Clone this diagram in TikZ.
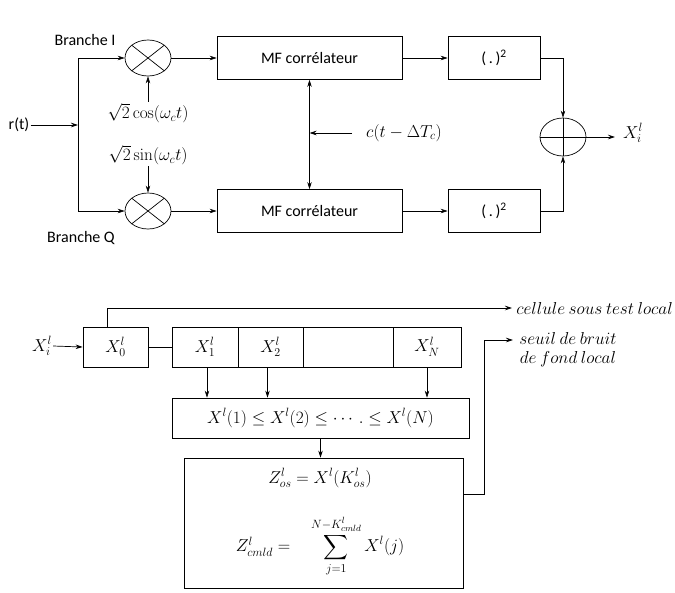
\documentclass[tikz,border=0pt]{standalone}
\usepackage{amsmath}
\usepackage[no-math]{fontspec}
\setmainfont{Carlito}
\DeclareMathSizes{16}{16}{11.5}{9}
\usetikzlibrary{shapes.geometric,arrows.meta}
\begin{document}
\begin{tikzpicture}[x=1pt,y=-1pt, line width=0.7pt,
  >={Stealth[length=7pt,width=4.5pt]},
  every node/.style={font=\fontsize{16}{19}\selectfont},
  blk/.style={draw, inner sep=0pt, minimum height=43pt},
  cell/.style={draw, inner sep=0pt, minimum height=40pt},
  mix/.style={draw, ellipse, inner sep=0pt, minimum width=46pt, minimum height=36pt},
  lbl/.style={inner sep=1pt}]
\useasboundingbox (0,0) rectangle (675,592);
% ---------- top part ----------
\node[lbl] (rt) at (19,125) {r(t)};
\coordinate (jn) at (78,125);
\coordinate (jI) at (78,58);
\coordinate (jQ) at (78,211);
\node[lbl] (bI) at (85,40) {Branche I};
\node[lbl] (bQ) at (81,238) {Branche Q};
\node[mix] (m1) at (148,58) {};
\node[mix] (m2) at (148,211) {};
\draw (m1.north west) -- (m1.south east) (m1.north east) -- (m1.south west);
\draw (m2.north west) -- (m2.south east) (m2.north east) -- (m2.south west);
\node[lbl] (cosl) at (148,113) {$\sqrt{2}\cos(\omega_c t)$};
\node[lbl] (sinl) at (148,155) {$\sqrt{2}\sin(\omega_c t)$};
\node[blk, minimum width=185pt] (mf1) at (309.5,58) {MF corrélateur};
\node[blk, minimum width=185pt] (mf2) at (309.5,211) {MF corrélateur};
\node[blk, minimum width=92pt] (sq1) at (494,58) {(\,.\,)\textsuperscript{2}};
\node[blk, minimum width=92pt] (sq2) at (494,211) {(\,.\,)\textsuperscript{2}};
\node[mix, minimum height=38pt] (sum) at (563,137) {};
\node[lbl] (cl) at (404,133) {$c(t-\Delta T_c)$};
\coordinate (cs) at (352,133);
\coordinate (outp) at (615,137);
\node[lbl] (xo) at (633,133) {$X_i^l$};

\draw[->] (rt.east) -- (jn);
\draw (jI) -- (jQ);
\draw[->] (jI) -- (m1.west);
\draw[->] (jQ) -- (m2.west);
\draw[->] (cosl.north) -- (m1.south);
\draw[->] (sinl.south) -- (m2.north);
\draw[->] (m1.east) -- (mf1.west);
\draw[->] (m2.east) -- (mf2.west);
\draw[<->] (mf1.south) -- (mf2.north);
\draw[->] (cs) -- (mf1.south |- cs);
\draw[->] (mf1.east) -- (sq1.west);
\draw[->] (mf2.east) -- (sq2.west);
\draw[->] (sq1.east) -| (sum.north);
\draw[->] (sq2.east) -| (sum.south);
\draw (sum.north) -- (sum.south);
\draw[->] (sum.west) -- (outp);
% ---------- bottom part ----------
\node[lbl] (xi) at (42,346) {$X_i^l$};
\node[cell, minimum width=65pt] (x0) at (115.5,347) {$X_0^l$};
\node[cell, minimum width=66pt] (c1) at (205,347) {$X_1^l$};
\node[cell, minimum width=65pt] (c2) at (270.5,347) {$X_2^l$};
\node[cell, minimum width=90pt] (c3) at (348,347) {};
\node[cell, minimum width=68pt] (c4) at (427,347) {$X_N^l$};
\node[cell, minimum width=297pt] (sort) at (320.5,418)
  {$X^l(1)\le X^l(2)\le \cdots.\le X^l(N)$};
\node[draw, inner sep=0pt, minimum width=279pt, minimum height=130pt] (big) at (323.5,523) {};
\node[lbl] (zos) at (320,478) {$Z_{os}^l = X^l(K_{os}^l)$};
\node[lbl] (zcm) at (320,546) {$Z_{cmld}^l = \quad\displaystyle\sum_{j=1}^{N-K_{cmld}^l} X^l(j)$};
\coordinate (tA) at (107,327);
\coordinate (tB) at (107,308);
\coordinate (tC) at (512,308);
\node[lbl, anchor=west] (cst) at (515,308) {$cellule\ sous\ test\ local$};
\coordinate (sA) at (463,494);
\coordinate (sB) at (484,494);
\coordinate (sC) at (484,340);
\coordinate (sD) at (513,340);
\node[lbl, anchor=west, align=center] (seuil) at (518,350) {$seuil\ de\ bruit$\\$de\ fond\ local$};

\draw[->] (xi.east) -- (x0.west);
\draw (x0.east) -- (c1.west);
\draw (tA) -- (tB);
\draw[->] (tB) -- (tC);
\draw[->] ([xshift=2pt]c1.south) -- ([xshift=2pt]c1.south |- sort.north);
\draw[->] ([xshift=-3pt]c2.south) -- ([xshift=-3pt]c2.south |- sort.north);
\draw[->] (c4.south) -- (c4.south |- sort.north);
\draw[->] (sort.south) -- (sort.south |- big.north);
\draw[->] (sA) -- (sB) -- (sC) -- (sD);
\end{tikzpicture}
\end{document}
